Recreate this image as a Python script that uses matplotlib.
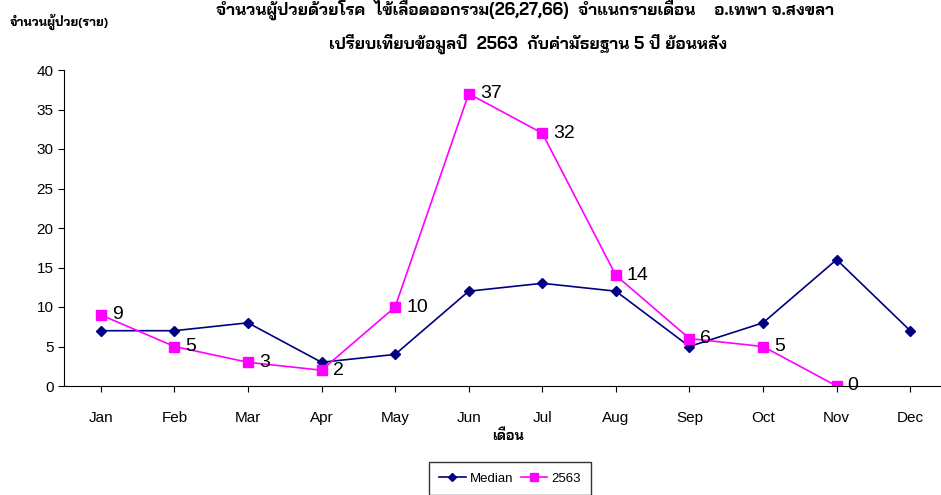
import matplotlib
matplotlib.use("Agg")
import matplotlib.pyplot as plt
import numpy as np
from matplotlib import font_manager

# data
months = ["Jan", "Feb", "Mar", "Apr", "May", "Jun", "Jul", "Aug", "Sep", "Oct", "Nov", "Dec"]
median = [7, 7, 8, 3, 4, 12, 13, 12, 5, 8, 16, 7]
y2563 = [9, 5, 3, 2, 10, 37, 32, 14, 6, 5, 0]

title1 = "จำนวนผู้ป่วยด้วยโรค  ไข้เลือดออกรวม(26,27,66)  จำแนกรายเดือน    อ.เทพา จ.สงขลา"
title2 = "เปรียบเทียบข้อมูลปี  2563  กับค่ามัธยฐาน 5 ปี ย้อนหลัง"
ylab = "จำนวนผู้ป่วย(ราย)"
xlab = "เดือน"

names = {f.name for f in font_manager.fontManager.ttflist}
thai = next((n for n in ["Bai Jamjuree", "Chakra Petch", "Noto Sans Thai", "Athiti"] if n in names), "DejaVu Sans")
latin = "Liberation Sans Narrow" if "Liberation Sans Narrow" in names else "Liberation Sans"
plt.rcParams['font.family'] = [latin, thai, 'DejaVu Sans']
thai_fam = [thai, 'DejaVu Sans']

fig = plt.figure(figsize=(9.41, 4.95), dpi=100)
ax = fig.add_axes([64/941, 1 - 386/495, (947 - 64)/941, (386 - 70)/495])

x = np.arange(len(months))
ax.plot(x, median, color="#000080", marker="D", markersize=5, lw=1.2, label="Median")
ax.plot(x[:len(y2563)], y2563, color="#FF00FF", marker="s", markersize=7, lw=1.2, label="2563")
for xi, v in zip(x, y2563):
    ax.text(xi + 0.15, v, str(v), fontsize=14, va="center", ha="left")

ax.set_xlim(-0.5, 11.5)
ax.set_ylim(0, 40)
ax.set_yticks(range(0, 41, 5))
ax.set_xticks(x)
ax.set_xticklabels(months)
ax.tick_params(axis="x", length=4, pad=14, labelsize=11)
ax.tick_params(axis="y", length=4, labelsize=11)
ax.spines["top"].set_visible(False)
ax.spines["right"].set_visible(False)

fig.text(525/941, 1 - 10/495, title1, fontsize=12, fontweight="bold", ha="center", va="center", family=thai_fam)
fig.text(528/941, 1 - 44/495, title2, fontsize=12, fontweight="bold", ha="center", va="center", family=thai_fam)
fig.text(10/941, 1 - 22/495, ylab, fontsize=9, fontweight="bold", ha="left", va="center", family=thai_fam)
fig.text(508/941, 1 - 436/495, xlab, fontsize=10, fontweight="bold", ha="center", va="center", family=thai_fam)

leg = ax.legend(loc="upper center", bbox_to_anchor=(510/941, 1 - 462/495), bbox_transform=fig.transFigure,
                ncol=2, frameon=True, fancybox=False, edgecolor="black", fontsize=9.5,
                handlelength=2.0, columnspacing=0.6, handletextpad=0.3, borderpad=0.8,
                markerscale=0.9, borderaxespad=0)
leg.get_frame().set_linewidth(1.0)

fig.savefig("out.png", dpi=100)
